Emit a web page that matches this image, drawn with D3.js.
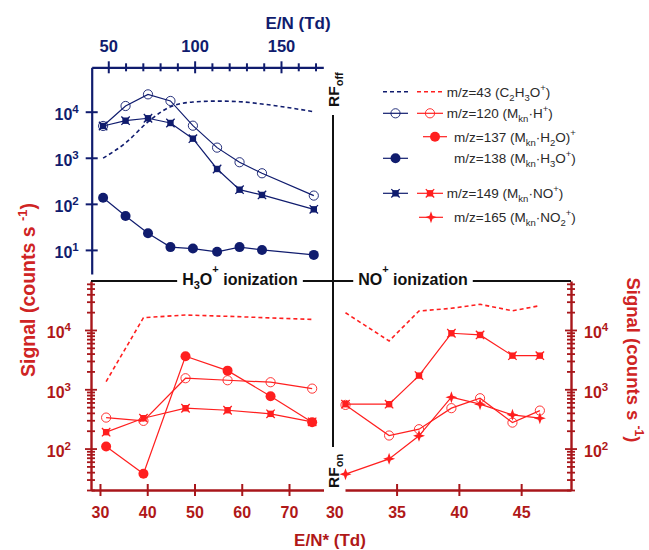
<!DOCTYPE html>
<html><head><meta charset="utf-8">
<script src="https://cdn.jsdelivr.net/npm/d3@7"></script>
<style>
body{margin:0;background:#fff;}
svg{display:block;font-family:Arial,"Liberation Sans",sans-serif;}
</style></head><body>
<svg id="c" width="649" height="550"></svg>
<script>
// ---------- DATA ----------
// Top panel (RF off, H3O+ ionization), x = E/N (Td)
const topEN  = [47, 60, 73, 86, 99, 113, 126, 139, 169];
const top43  = [980, 2100, 6000, 12800, 16200, 17000, 16500, 14700, 10000];
const top120 = [4900, 13300, 23800, 17100, 4970, 1660, 800, 461, 151];
const top138 = [136, 54.7, 23, 11.5, 10.7, 9.1, 11.5, 10, 7.8];
const top149 = [4900, 6380, 7200, 5690, 2600, 571, 203, 156, 76];
// Bottom-left (RF on, H3O+ ionization), x = E/N* (Td)
const blEN  = [31.3, 39.2, 48.1, 57.0, 66.1, 74.9];
const bl43  = [1350, 16100, 17900, 17000, 16000, 15100];
const bl120 = [333, 293, 1535, 1420, 1315, 1026];
const bl137 = [108, 37.5, 3600, 2060, 764, 278];
const bl149 = [189, 325, 479, 443, 385, 282];
// Bottom-right (RF on, NO+ ionization), x = E/N* (Td)
const brEN  = [30.9, 34.4, 36.8, 39.4, 41.7, 44.3, 46.5];
const br43  = [19500, 6530, 20900, 23200, 27100, 21100, 25700];
const br120 = [545, 166, 212, 480, 706, 274, 437];
const br149 = [560, 560, 1700, 8800, 8240, 3690, 3690];
const br165 = [37, 67, 164, 735, 560, 370, 325];
// tick labels
const topXTicks = [50,60,70,80,90,100,110,120,130,140,150,160,170];
const topXLabels = [50,100,150];
const topYTicks = [10,100,1000,10000];
const blXTicks = [30,40,50,60,70];
const brXTicks = [30,35,40,45];
const decades = [100,1000,10000];

// ---------- STYLE ----------
const NAVY="#101c6e", RED="#ff1f1f", MAROON="#a8161a", LBL="#b01818", TITLE="#cf2424";
const svg = d3.select("#c");

const xT = d3.scaleLinear().domain([40.4,174.5]).range([91.7,323.3]);
const yT = d3.scaleLog().domain([3,92000]).range([274,67.3]);
const xL = d3.scaleLinear().domain([28.1,77.3]).range([91,323.5]);
const xR = d3.scaleLinear().domain([30.86,49]).range([345,571]);
const yB = d3.scaleLog().domain([20,67000]).range([490,281]);

function starPath(R,r){
  const p=[];
  for(let i=0;i<8;i++){const a=i*Math.PI/4-Math.PI/2, rr=i%2?r:R; p.push([rr*Math.cos(a), rr*Math.sin(a)]);}
  return "M"+p.map(d=>d.join(",")).join("L")+"Z";
}
function marker(g, type, color, x, y){
  if(type==="open") g.append("circle").attr("cx",x).attr("cy",y).attr("r",4.6).attr("fill","none").attr("stroke",color).attr("stroke-width",0.9);
  else if(type==="filled") g.append("circle").attr("cx",x).attr("cy",y).attr("r",5).attr("fill",color);
  else if(type==="cross"){
    g.append("rect").attr("x",x-3.2).attr("y",y-3.2).attr("width",6.4).attr("height",6.4).attr("fill",color);
    g.append("path").attr("d",`M${x-4.2},${y-4.2}L${x+4.2},${y+4.2}M${x-4.2},${y+4.2}L${x+4.2},${y-4.2}`).attr("stroke",color).attr("stroke-width",1.3);
  } else if(type==="star") g.append("path").attr("transform",`translate(${x},${y})`).attr("d",starPath(6,2.2)).attr("fill",color);
}
function series(xs, ys, xS, yS, color, type, dashed, curve){
  const g = svg.append("g");
  const pts = xs.map((x,i)=>[xS(x), yS(ys[i])]);
  const line = d3.line().curve(curve||d3.curveLinear);
  g.append("path").attr("d",line(pts)).attr("fill","none").attr("stroke",color)
    .attr("stroke-width",dashed?1.6:1.2).attr("stroke-dasharray",dashed?"4,3":null);
  if(type) pts.forEach(p=>marker(g,type,color,p[0],p[1]));
}
function pow10(sel, n, supSize){
  sel.append("tspan").text("10");
  sel.append("tspan").attr("dy",-7).attr("font-size",supSize).text(n);
}

// ---------- TOP AXES ----------
const gTX = svg.append("g").attr("transform","translate(0,67.3)")
  .call(d3.axisTop(xT).tickValues(topXTicks).tickSizeOuter(0).tickFormat(d=>topXLabels.includes(d)?d:""));
gTX.select(".domain").attr("stroke",NAVY).attr("stroke-width",2.2);
gTX.selectAll(".tick line").attr("stroke",NAVY).attr("stroke-width",2)
  .attr("y1",d=>topXLabels.includes(d)?6:4).attr("y2",d=>topXLabels.includes(d)?-6:-4);
gTX.selectAll(".tick text").attr("fill",NAVY).attr("font-size",16.5).attr("font-weight","bold")
  .attr("y",-15).attr("dy",0).attr("font-family","Arial,'Liberation Sans',sans-serif");

const gTY = svg.append("g").attr("transform","translate(91.7,0)")
  .call(d3.axisLeft(yT).tickValues(topYTicks).tickSizeOuter(0).tickFormat(""));
gTY.select(".domain").attr("stroke",NAVY).attr("stroke-width",2.2);
gTY.selectAll(".tick line").attr("stroke",NAVY).attr("stroke-width",2).attr("x1",6).attr("x2",-6);
gTY.selectAll(".tick").append("text").attr("x",-13).attr("y",8).attr("text-anchor","end")
  .attr("fill",NAVY).attr("font-size",16).attr("font-weight","bold")
  .each(function(d){pow10(d3.select(this), Math.round(Math.log10(d)), 11.5);});

svg.append("text").attr("x",298).attr("y",28.5).attr("text-anchor","middle").attr("fill",NAVY)
  .attr("font-size",17).attr("font-weight","bold").text("E/N (Td)");

// ---------- BOTTOM AXES ----------
const minorB = [];
for(let e=1;e<=4;e++) for(let m=1;m<=9;m++){const v=m*Math.pow(10,e); if(v>=20&&v<=67000) minorB.push(v);}
const isDec = d => Math.abs(Math.log10(d)-Math.round(Math.log10(d)))<1e-9;

function bottomY(x, right){
  const ax = right? d3.axisRight(yB) : d3.axisLeft(yB);
  const g = svg.append("g").attr("transform",`translate(${x},0)`)
    .call(ax.tickValues(minorB).tickSizeOuter(0).tickFormat(""));
  g.select(".domain").attr("stroke",MAROON).attr("stroke-width",2.4);
  g.selectAll(".tick line").attr("stroke",MAROON).attr("stroke-width",1.8)
    .attr("x1",d=>isDec(d)?-6:-4).attr("x2",d=>isDec(d)?6:4);
  g.selectAll(".tick").filter(d=>decades.includes(d)).append("text")
    .attr("x",right?13:-20).attr("y",8).attr("text-anchor",right?"start":"end")
    .attr("fill",LBL).attr("font-size",16).attr("font-weight","bold")
    .each(function(d){pow10(d3.select(this), Math.round(Math.log10(d)), 11.5);});
  return g;
}
bottomY(91,false);
bottomY(571,true);

function bottomX(scale, ticks, hideFirst){
  const g = svg.append("g").attr("transform","translate(0,490)")
    .call(d3.axisBottom(scale).tickValues(ticks).tickSizeOuter(0).tickFormat(d3.format("d")));
  g.select(".domain").attr("stroke",MAROON).attr("stroke-width",2.4);
  g.selectAll(".tick line").attr("stroke",MAROON).attr("stroke-width",2).attr("y1",-6).attr("y2",6)
    .attr("opacity",(d,i)=>hideFirst&&i===0?0:1);
  g.selectAll(".tick text").attr("fill",LBL).attr("font-size",16).attr("font-weight","bold")
    .attr("y",28).attr("dy",0).attr("font-family","Arial,'Liberation Sans',sans-serif");
}
bottomX(xL, blXTicks, false);
bottomX(xR, brXTicks, true);

svg.append("text").attr("x",330).attr("y",546).attr("text-anchor","middle").attr("fill",LBL)
  .attr("font-size",17).attr("font-weight","bold").text("E/N* (Td)");

// y titles
function sigTitle(x,y,rot,size){
  const t = svg.append("text").attr("transform",`translate(${x},${y}) rotate(${rot})`)
    .attr("text-anchor","middle").attr("fill",TITLE).attr("font-size",size).attr("font-weight","bold");
  t.append("tspan").text("Signal (counts s ");
  t.append("tspan").attr("dy",-8).attr("font-size",size*0.66).text("-1");
  t.append("tspan").attr("dy",8).text(")");
}
sigTitle(35,290,-90,19.5);
sigTitle(627,360,90,18.5);

// ---------- SEPARATORS ----------
const sep = svg.append("g");
function ionLabel(cx, parts){
  const t = sep.append("text").attr("x",cx).attr("y",285).attr("text-anchor","middle")
    .attr("font-size",16).attr("font-weight","bold").attr("fill","#111");
  let cur=0;
  parts.forEach(p=>{
    const s=t.append("tspan").text(p[0]);
    const target = p[1]==="sub"?4:(p[1]==="sup"?-12:0);
    if(p[1]) s.attr("font-size",11);
    if(target!==cur){s.attr("dy",target-cur); cur=target;}
  });
  return t.node().getBBox();
}
const b1 = ionLabel(240, [["H"],["3","sub"],["O"],["+","sup"],[" ionization"]]);
const b2 = ionLabel(413, [["NO"],["+","sup"],[" ionization"]]);
const segs = [[91,b1.x-5],[b1.x+b1.width+5,b2.x-5],[b2.x+b2.width+5,571]];
segs.forEach(s=>sep.append("line").attr("x1",s[0]).attr("x2",s[1]).attr("y1",281).attr("y2",281)
  .attr("stroke","#111").attr("stroke-width",2));
sep.append("line").attr("x1",333).attr("x2",333).attr("y1",115).attr("y2",447).attr("stroke","#111").attr("stroke-width",2);
function rfLabel(x,y,sub){
  const t = sep.append("text").attr("transform",`translate(${x},${y}) rotate(-90)`)
    .attr("font-size",15.5).attr("font-weight","bold").attr("fill","#111");
  t.append("tspan").text("RF");
  t.append("tspan").attr("dy",4).attr("font-size",11).text(sub);
}
rfLabel(338.5,107,"off");
rfLabel(338.5,488,"on");

// ---------- DATA SERIES ----------
series(topEN, top43, xT, yT, NAVY, null, true, d3.curveMonotoneX);
series(topEN, top120, xT, yT, NAVY, "open");
series(topEN, top149, xT, yT, NAVY, "cross");
series(topEN, top138, xT, yT, NAVY, "filled");

series(blEN, bl43, xL, yB, RED, null, true);
series(blEN, bl120, xL, yB, RED, "open");
series(blEN, bl149, xL, yB, RED, "cross");
series(blEN, bl137, xL, yB, RED, "filled");

series(brEN, br43, xR, yB, RED, null, true);
series(brEN, br120, xR, yB, RED, "open");
series(brEN, br149, xR, yB, RED, "cross");
series(brEN, br165, xR, yB, RED, "star");

// ---------- LEGEND ----------
const lg = svg.append("g");
function lgLine(x1,x2,y,color,type,dashed){
  lg.append("line").attr("x1",x1).attr("x2",x2).attr("y1",y).attr("y2",y).attr("stroke",color)
    .attr("stroke-width",dashed?1.6:1.2).attr("stroke-dasharray",dashed?"4,3":null);
  if(type) marker(lg,type,color,(x1+x2)/2,y);
}
function lgText(x,y,parts){
  const t = lg.append("text").attr("x",x).attr("y",y+5).attr("font-size",13.5).attr("fill","#2a2a2a");
  let cur=0;
  parts.forEach(p=>{
    const s=t.append("tspan").text(p[0]);
    const target = p[1]==="sub"?4:(p[1]==="sup"?-6:0);
    if(p[1]) s.attr("font-size",9.5);
    if(target!==cur){s.attr("dy",target-cur); cur=target;}
  });
}
const BX1=383,BX2=408,RX1=417,RX2=443;
lgLine(BX1,BX2,91.7,NAVY,null,true); lgLine(RX1,RX2,91.7,RED,null,true);
lgText(446.7,91.7,[["m/z=43 (C"],["2","sub"],["H"],["3","sub"],["O"],["+","sup"],[")"]]);
lgLine(BX1,BX2,113.3,NAVY,"open"); lgLine(RX1,RX2,113.3,RED,"open");
lgText(446.7,113.3,[["m/z=120 (M"],["kn","sub"],["·H"],["+","sup"],[")"]]);
lgLine(423,447,136.7,RED,"filled");
lgText(454,136.7,[["m/z=137 (M"],["kn","sub"],["·H"],["2","sub"],["O)"],["+","sup"]]);
lgLine(BX1,BX2,158.3,NAVY,"filled");
lgText(454,158.3,[["m/z=138 (M"],["kn","sub"],["·H"],["3","sub"],["O"],["+","sup"],[")"]]);
lgLine(BX1,BX2,193.3,NAVY,"cross"); lgLine(RX1,RX2,193.3,RED,"cross");
lgText(446.7,193.3,[["m/z=149 (M"],["kn","sub"],["·NO"],["+","sup"],[")"]]);
lgLine(419,443,217.3,RED,"star");
lgText(454,217.3,[["m/z=165 (M"],["kn","sub"],["·NO"],["2","sub"],["+","sup"],[")"]]);
</script>
</body></html>
